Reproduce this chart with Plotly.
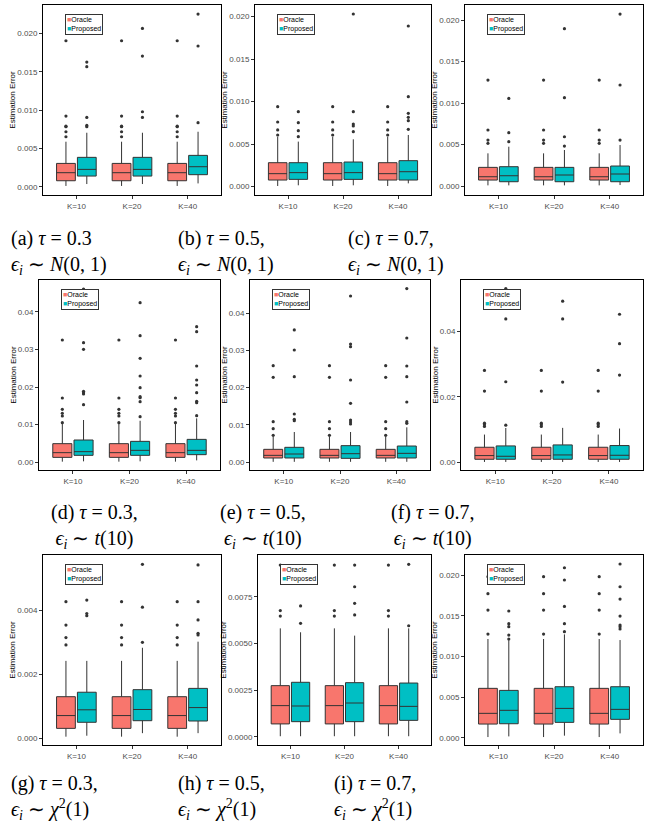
import plotly.graph_objects as go

K_LABELS = ["K=10", "K=20", "K=40"]
METHODS = ["Oracle", "Proposed"]
COLORS = {"Oracle": "#F8766D", "Proposed": "#00BFC4"}

# Box statistics per K: [lower whisker, Q1, median, Q3, upper whisker]
# (a) tau=0.3, N(0,1)
a_oracle_stats = [[0.0001, 0.00078, 0.00183, 0.00304, 0.00587]] * 3
a_oracle_out = [[0.00652, 0.00717, 0.00783, 0.0079, 0.00922, 0.01904]] * 3
a_proposed_stats = [[0.00035, 0.00139, 0.00226, 0.00383, 0.00704],
                    [0.00035, 0.00139, 0.00226, 0.00383, 0.00704],
                    [0.00043, 0.00157, 0.00261, 0.00409, 0.00717]]
a_proposed_out = [[0.00783, 0.008, 0.00904, 0.01565, 0.01626],
                  [0.00904, 0.00978, 0.01704, 0.02065],
                  [0.00835, 0.01835, 0.02252]]
# (b) tau=0.5, N(0,1)
b_oracle_stats = [[0.00008, 0.00078, 0.00153, 0.00282, 0.00588]] * 3
b_oracle_out = [[0.00608, 0.00667, 0.00761, 0.00941]] * 3
b_proposed_stats = [[0.00016, 0.00086, 0.00165, 0.00282, 0.0053],
                    [0.00016, 0.00086, 0.00165, 0.0029, 0.00557],
                    [0.00039, 0.00078, 0.00176, 0.00306, 0.00608]]
b_proposed_out = [[0.00588, 0.00659, 0.00753, 0.00882],
                  [0.00647, 0.00714, 0.00737, 0.00882, 0.02031],
                  [0.00675, 0.00776, 0.00816, 0.00863, 0.01059, 0.0189]]
# (c) tau=0.7, N(0,1)
c_oracle_stats = [[0.00008, 0.00072, 0.00112, 0.00225, 0.00394]] * 3
c_oracle_out = [[0.00514, 0.00554, 0.00675, 0.01277]] * 3
c_proposed_stats = [[0.00008, 0.00052, 0.00124, 0.00233, 0.00474],
                    [0.00008, 0.00052, 0.00133, 0.00225, 0.00434],
                    [0.00012, 0.00052, 0.00145, 0.00241, 0.00494]]
c_proposed_out = [[0.00534, 0.00643, 0.01056],
                  [0.00482, 0.00594, 0.01064, 0.01896],
                  [0.00554, 0.01217, 0.02072]]
# (d) tau=0.3, t(10)
d_oracle_stats = [[0.00009, 0.00124, 0.00249, 0.00489, 0.01013]] * 3
d_oracle_out = [[0.01049, 0.01227, 0.01298, 0.01404, 0.01707, 0.03253]] * 3
d_proposed_stats = [[0.00018, 0.00178, 0.00276, 0.00587, 0.0112],
                    [0.00018, 0.00178, 0.00311, 0.00551, 0.011],
                    [0.00044, 0.00196, 0.00311, 0.00604, 0.01164]]
d_proposed_out = [[0.01529, 0.01813, 0.01849, 0.01884, 0.03004, 0.03182, 0.04613],
                  [0.01209, 0.01609, 0.01716, 0.01742, 0.01982, 0.02293, 0.02764, 0.03369, 0.04249],
                  [0.01236, 0.01582, 0.01618, 0.01849, 0.02053, 0.02187, 0.0256, 0.03476, 0.03609]]
# (e) tau=0.5, t(10)
e_oracle_stats = [[0.00005, 0.00108, 0.00179, 0.00341, 0.00682]] * 3
e_oracle_out = [[0.00717, 0.00897, 0.01085, 0.02278, 0.02592]] * 3
e_proposed_stats = [[0.00005, 0.00108, 0.00215, 0.00395, 0.00807],
                    [0.00005, 0.00099, 0.00224, 0.0044, 0.00807],
                    [0.00005, 0.00108, 0.00233, 0.0043, 0.00933]]
e_proposed_out = [[0.01112, 0.01148, 0.01291, 0.02296, 0.03013, 0.03552],
                  [0.01022, 0.01076, 0.0113, 0.01578, 0.02206, 0.03103, 0.03175, 0.04466],
                  [0.0104, 0.01085, 0.01614, 0.02296, 0.02583, 0.03336, 0.04664]]
# (f) tau=0.7, t(10)
f_oracle_stats = [[0.0001, 0.00092, 0.00205, 0.0046, 0.00849]] * 3
f_oracle_out = [[0.01095, 0.01146, 0.01197, 0.02179, 0.02813]] * 3
f_proposed_stats = [[0.0001, 0.00092, 0.00184, 0.00501, 0.0105],
                    [0.0001, 0.00092, 0.00225, 0.00532, 0.01054],
                    [0.0001, 0.00092, 0.00215, 0.00512, 0.01033]]
f_proposed_out = [[0.01136, 0.02465, 0.04389, 0.0532],
                  [0.02455, 0.04389, 0.04931],
                  [0.0267, 0.03632, 0.04532]]
# (g) tau=0.3, chi2(1)
g_oracle_stats = [[0.00005, 0.00031, 0.00071, 0.0013, 0.00242]] * 3
g_oracle_out = [[0.00292, 0.00315, 0.00354, 0.00427]] * 3
g_proposed_stats = [[0.00008, 0.0005, 0.00089, 0.00144, 0.00242],
                    [0.00016, 0.00055, 0.0009, 0.00152, 0.00283],
                    [0.00016, 0.00054, 0.00096, 0.00156, 0.00302]]
g_proposed_out = [[0.00383, 0.0039, 0.00432],
                  [0.003, 0.0041, 0.00544],
                  [0.00323, 0.00328, 0.0037, 0.00427, 0.00542]]
# (h) tau=0.5, chi2(1)
h_oracle_stats = [[0.00004, 0.0007, 0.00168, 0.00275, 0.00582]] * 3
h_oracle_out = [[0.00648, 0.00677, 0.00921]] * 3
h_proposed_stats = [[0.00004, 0.00082, 0.00166, 0.00293, 0.00561],
                    [0.00004, 0.00082, 0.00182, 0.00291, 0.00543],
                    [0.00004, 0.00089, 0.00164, 0.00289, 0.00582]]
h_proposed_out = [[0.00609, 0.00702],
                  [0.00654, 0.00716, 0.00805, 0.00921],
                  [0.00596, 0.00925]]
# (i) tau=0.7, chi2(1)
i_oracle_stats = [[0.00008, 0.00168, 0.003, 0.00608, 0.01216]] * 3
i_oracle_out = [[0.01277, 0.01573, 0.01774, 0.01984]] * 3
i_proposed_stats = [[0.00016, 0.00172, 0.00337, 0.00583, 0.01203],
                    [0.00025, 0.00189, 0.00361, 0.00628, 0.01273],
                    [0.00053, 0.00226, 0.00349, 0.00628, 0.01203]]
i_proposed_out = [[0.01216, 0.01265, 0.01368, 0.01405, 0.01561],
                  [0.01306, 0.01405, 0.01618, 0.01943, 0.02094],
                  [0.01339, 0.01368, 0.01388, 0.01499, 0.01708, 0.0186, 0.0214]]

PANEL_DATA = [
    (a_oracle_stats, a_oracle_out, a_proposed_stats, a_proposed_out),
    (b_oracle_stats, b_oracle_out, b_proposed_stats, b_proposed_out),
    (c_oracle_stats, c_oracle_out, c_proposed_stats, c_proposed_out),
    (d_oracle_stats, d_oracle_out, d_proposed_stats, d_proposed_out),
    (e_oracle_stats, e_oracle_out, e_proposed_stats, e_proposed_out),
    (f_oracle_stats, f_oracle_out, f_proposed_stats, f_proposed_out),
    (g_oracle_stats, g_oracle_out, g_proposed_stats, g_proposed_out),
    (h_oracle_stats, h_oracle_out, h_proposed_stats, h_proposed_out),
    (i_oracle_stats, i_oracle_out, i_proposed_stats, i_proposed_out),
]

Y_TICKS = [
    [0, 0.005, 0.01, 0.015, 0.02],
    [0, 0.005, 0.01, 0.015, 0.02],
    [0, 0.005, 0.01, 0.015, 0.02],
    [0, 0.01, 0.02, 0.03, 0.04],
    [0, 0.01, 0.02, 0.03, 0.04],
    [0, 0.02, 0.04],
    [0, 0.002, 0.004],
    [0, 0.0025, 0.005, 0.0075],
    [0, 0.005, 0.01, 0.015, 0.02],
]
Y_FORMATS = [".3f", ".3f", ".3f", ".2f", ".2f", ".2f", ".3f", ".4f", ".3f"]
Y_RANGES = [
    [-0.00108, 0.0237], [-0.00098, 0.02137], [-0.00108, 0.02181],
    [-0.00213, 0.04853], [-0.00215, 0.04896], [-0.00236, 0.0558],
    [-0.00021, 0.00573], [-0.00043, 0.00975], [-0.0009, 0.02251],
]

S = "\u00a0"  # wider spacing around '=' like TeX
TAU = ["0.3", "0.5", "0.7"]
NOISE = ["<i>N</i>(0,{s}1)".format(s=S), "<i>t</i>(10)", "<i>χ</i><sup>2</sup>(1)"]
LETTERS = ["a", "b", "c", "d", "e", "f", "g", "h", "i"]
CAPTIONS = []
for k, letter in enumerate(LETTERS):
    comma = "" if letter == "a" else ","
    CAPTIONS.append(
        f"({letter}) <i>τ</i>{S}={S}{TAU[k % 3]}{comma}<br>"
        f"<i>ϵ<sub>i</sub></i>{S}∼{S}{NOISE[k // 3]}"
    )

# ---------------- layout geometry (pixels) ----------------
W, H = 653, 827
PANEL_X = [(43, 221), (255, 431), (465, 643),
           (39, 220), (250, 430), (461, 643),
           (43, 221), (258, 431), (465, 643)]
ROW_Y = [(5, 195), (280, 470), (555, 745)]
CAPTION_POS = [  # x px, y px (block centre), anchor
    (9, 252, "left"), (176, 252, "left"), (346, 252, "left"),
    (94, 526, "center"), (263, 526, "center"), (432, 526, "center"),
    (9, 797, "left"), (176, 797, "left"), (332, 797, "left"),
]

fig = go.Figure()
layout = dict(
    width=W, height=H,
    margin=dict(l=0, r=0, t=0, b=0, autoexpand=False),
    paper_bgcolor="white", plot_bgcolor="white",
    boxmode="group", boxgap=0.25, boxgroupgap=0.1,
    showlegend=False,
    font=dict(family="Liberation Sans, Arial, sans-serif", size=8, color="#4d4d4d"),
)
annotations = []

for p, (o_stats, o_out, pr_stats, pr_out) in enumerate(PANEL_DATA):
    n = p + 1
    xs = "x" if n == 1 else f"x{n}"
    ys = "y" if n == 1 else f"y{n}"
    for method, stats, outs in (("Oracle", o_stats, o_out), ("Proposed", pr_stats, pr_out)):
        fig.add_trace(go.Box(
            x=K_LABELS,
            lowerfence=[s[0] for s in stats],
            q1=[s[1] for s in stats],
            median=[s[2] for s in stats],
            q3=[s[3] for s in stats],
            upperfence=[s[4] for s in stats],
            y=outs,
            boxpoints="all", jitter=0, pointpos=0,
            name=method, offsetgroup=method,
            fillcolor=COLORS[method],
            line=dict(color="#333333", width=1),
            marker=dict(color="#333333", size=3.2),
            whiskerwidth=0,
            xaxis=xs, yaxis=ys,
            showlegend=False,
            hoverinfo="skip",
        ))
    x0, x1 = PANEL_X[p]
    r0, r1 = ROW_Y[p // 3]
    layout[f"xaxis{'' if n == 1 else n}"] = dict(
        domain=[x0 / W, x1 / W], anchor=ys, automargin=False,
        type="category", categoryorder="array", categoryarray=K_LABELS,
        range=[-0.6, 2.6],
        showline=True, mirror=True, linecolor="black", linewidth=1,
        ticks="outside", ticklen=3, tickcolor="#333333",
        tickfont=dict(size=8, color="#4d4d4d"),
        showgrid=False, zeroline=False,
    )
    layout[f"yaxis{'' if n == 1 else n}"] = dict(
        domain=[1 - r1 / H, 1 - r0 / H], anchor=xs, automargin=False,
        range=Y_RANGES[p], tickvals=Y_TICKS[p], tickformat=Y_FORMATS[p],
        showline=True, mirror=True, linecolor="black", linewidth=1,
        ticks="outside", ticklen=3, tickcolor="#333333",
        tickfont=dict(size=8, color="#4d4d4d"),
        showgrid=False, zeroline=False,
        title=dict(text="Estimation Error", font=dict(size=8, color="black"), standoff=0),
    )
    # legend box inside each panel
    annotations.append(dict(
        xref=f"{xs} domain", yref=f"{ys} domain",
        x=22 / (x1 - x0), y=1 - 9 / (r1 - r0), xanchor="left", yanchor="top",
        text=(f'<span style="color:{COLORS["Oracle"]}">■</span>Oracle<br>'
              f'<span style="color:{COLORS["Proposed"]}">■</span>Proposed'),
        showarrow=False, align="left",
        font=dict(size=7, color="black"),
        bgcolor="white", bordercolor="#333333", borderwidth=1, borderpad=1,
    ))
    cx, cy, anc = CAPTION_POS[p]
    annotations.append(dict(
        xref="paper", yref="paper", x=cx / W, y=1 - cy / H,
        xanchor=anc, yanchor="middle", align=anc,
        text=CAPTIONS[p], showarrow=False,
        font=dict(family="Liberation Serif, Times New Roman, serif", size=20, color="black"),
    ))

layout["annotations"] = annotations
fig.update_layout(**layout)
fig.write_html("out.html",
               config={"displayModeBar": False},
               post_script="document.body.style.margin='0';document.body.style.padding='0';")
